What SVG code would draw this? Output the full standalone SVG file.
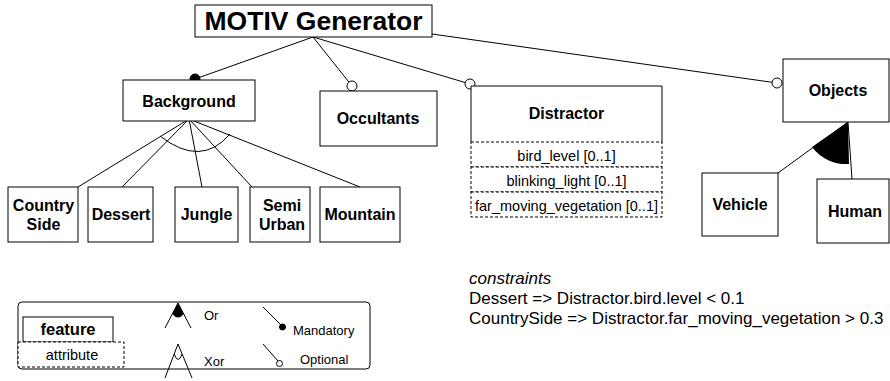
<svg xmlns="http://www.w3.org/2000/svg" width="890" height="381" viewBox="0 0 890 381">
<style>
.box{fill:#fff;stroke:#000;stroke-width:1}
.dash{fill:#fff;stroke:#000;stroke-width:1;stroke-dasharray:3,2}
.ln{fill:none;stroke:#000;stroke-width:1}
.lbl{font-family:"Liberation Sans",Arial,sans-serif;font-weight:bold;font-size:16px;text-anchor:middle;fill:#000}
.attr{font-family:"Liberation Sans",Arial,sans-serif;font-size:14.5px;text-anchor:middle;fill:#000}
.leg{font-family:"Liberation Sans",Arial,sans-serif;font-size:13px;fill:#000}
.con{font-family:"Liberation Sans",Arial,sans-serif;font-size:17px;fill:#000}
.opt{fill:#fff;stroke:#000;stroke-width:1}
.man{fill:#000;stroke:#000;stroke-width:1}
</style>
<rect width="890" height="381" fill="#fff"/>
<g id="connectors">
  <line class="ln" x1="313" y1="37" x2="195" y2="79"/>
  <line class="ln" x1="313" y1="37" x2="352" y2="86"/>
  <line class="ln" x1="313" y1="37" x2="470" y2="84"/>
  <line class="ln" x1="432" y1="34" x2="777" y2="83"/>
  <circle class="man" cx="195" cy="79" r="5"/>
  <circle class="opt" cx="352" cy="86" r="5"/>
  <circle class="opt" cx="470" cy="84" r="5"/>
  <circle class="opt" cx="777" cy="83" r="5"/>
  <line class="ln" x1="189" y1="119" x2="78" y2="187"/>
  <line class="ln" x1="189" y1="119" x2="122" y2="187"/>
  <line class="ln" x1="189" y1="119" x2="202" y2="187"/>
  <line class="ln" x1="189" y1="119" x2="252" y2="187"/>
  <line class="ln" x1="189" y1="119" x2="360" y2="187"/>
  <path class="ln" d="M160,136 Q201,168 230,134"/>
  <line class="ln" x1="848" y1="122" x2="778" y2="173"/>
  <line class="ln" x1="848" y1="122" x2="852" y2="179"/>
  <path d="M848,122 L812,147 A43,43 0 0 0 849,164 Z" fill="#000"/>
</g>
<g id="motiv">
  <rect class="box" x="195" y="5" width="237" height="32"/>
  <text class="lbl" x="313.5" y="30" style="font-size:26.5px">MOTIV Generator</text>
</g>
<g id="background">
  <rect class="box" x="123" y="80" width="132" height="41"/>
  <text class="lbl" x="189" y="106.5">Background</text>
</g>
<g id="occultants">
  <rect class="box" x="320" y="91" width="117" height="55"/>
  <text class="lbl" x="378" y="123.5">Occultants</text>
</g>
<g id="distractor">
  <path class="box" d="M471,142 V86 H662 V142"/>
  <text class="lbl" x="566.5" y="118.5">Distractor</text>
  <rect class="dash" x="471" y="142" width="191" height="25"/>
  <rect class="dash" x="471" y="167" width="191" height="25"/>
  <rect class="dash" x="471" y="192" width="191" height="25"/>
  <text class="attr" x="566.5" y="160.5">bird_level [0..1]</text>
  <text class="attr" x="566.5" y="185.5">blinking_light [0..1]</text>
  <text class="attr" x="566.5" y="210.5">far_moving_vegetation [0..1]</text>
</g>
<g id="objects">
  <rect class="box" x="783" y="59" width="106" height="63"/>
  <text class="lbl" x="838" y="96">Objects</text>
</g>
<g id="countryside">
  <rect class="box" x="8" y="187" width="70" height="55"/>
  <text class="lbl" x="43.5" y="210.5">Country</text>
  <text class="lbl" x="43.5" y="230">Side</text>
</g>
<g id="dessert">
  <rect class="box" x="88" y="187" width="65" height="55"/>
  <text class="lbl" x="121" y="220">Dessert</text>
</g>
<g id="jungle">
  <rect class="box" x="175" y="187" width="63" height="55"/>
  <text class="lbl" x="206.5" y="220">Jungle</text>
</g>
<g id="semiurban">
  <rect class="box" x="250" y="187" width="60" height="55"/>
  <text class="lbl" x="282" y="210.5">Semi</text>
  <text class="lbl" x="282" y="230">Urban</text>
</g>
<g id="mountain">
  <rect class="box" x="320" y="187" width="80" height="55"/>
  <text class="lbl" x="360" y="220">Mountain</text>
</g>
<g id="vehicle">
  <rect class="box" x="702" y="173" width="76" height="63"/>
  <text class="lbl" x="740" y="210">Vehicle</text>
</g>
<g id="human">
  <rect class="box" x="817" y="179" width="72" height="64"/>
  <text class="lbl" x="855" y="216.5">Human</text>
</g>
<g id="constraints">
  <text class="con" x="469" y="284" font-style="italic">constraints</text>
  <text class="con" x="469" y="304">Dessert =&gt; Distractor.bird.level &lt; 0.1</text>
  <text class="con" x="469" y="324">CountrySide =&gt; Distractor.far_moving_vegetation &gt; 0.3</text>
</g>
<g id="legend">
  <rect class="box" x="18" y="302" width="352" height="67" rx="4"/>
  <rect class="box" x="23" y="317" width="90" height="25"/>
  <text class="lbl" x="68" y="335" style="font-size:16.5px">feature</text>
  <rect class="dash" x="18" y="342" width="106" height="25"/>
  <text class="attr" x="72" y="360">attribute</text>
  <path class="ln" d="M165,328 L178,303 L191,328"/>
  <path d="M178,303 L172.3,314 Q178,321 183.7,314 Z" fill="#000"/>
  <text class="leg" x="204" y="320">Or</text>
  <path class="ln" d="M165,378 L178,344 L192,378"/>
  <path class="ln" d="M174.2,354 Q178,365 182.2,354"/>
  <text class="leg" x="204" y="366">Xor</text>
  <line class="ln" x1="263" y1="307" x2="281" y2="325"/>
  <circle class="man" cx="282.5" cy="327" r="3"/>
  <text class="leg" x="293" y="335">Mandatory</text>
  <line class="ln" x1="263" y1="344" x2="278" y2="361"/>
  <circle class="opt" cx="279.5" cy="363.5" r="3"/>
  <text class="leg" x="300" y="364">Optional</text>
</g>
</svg>
